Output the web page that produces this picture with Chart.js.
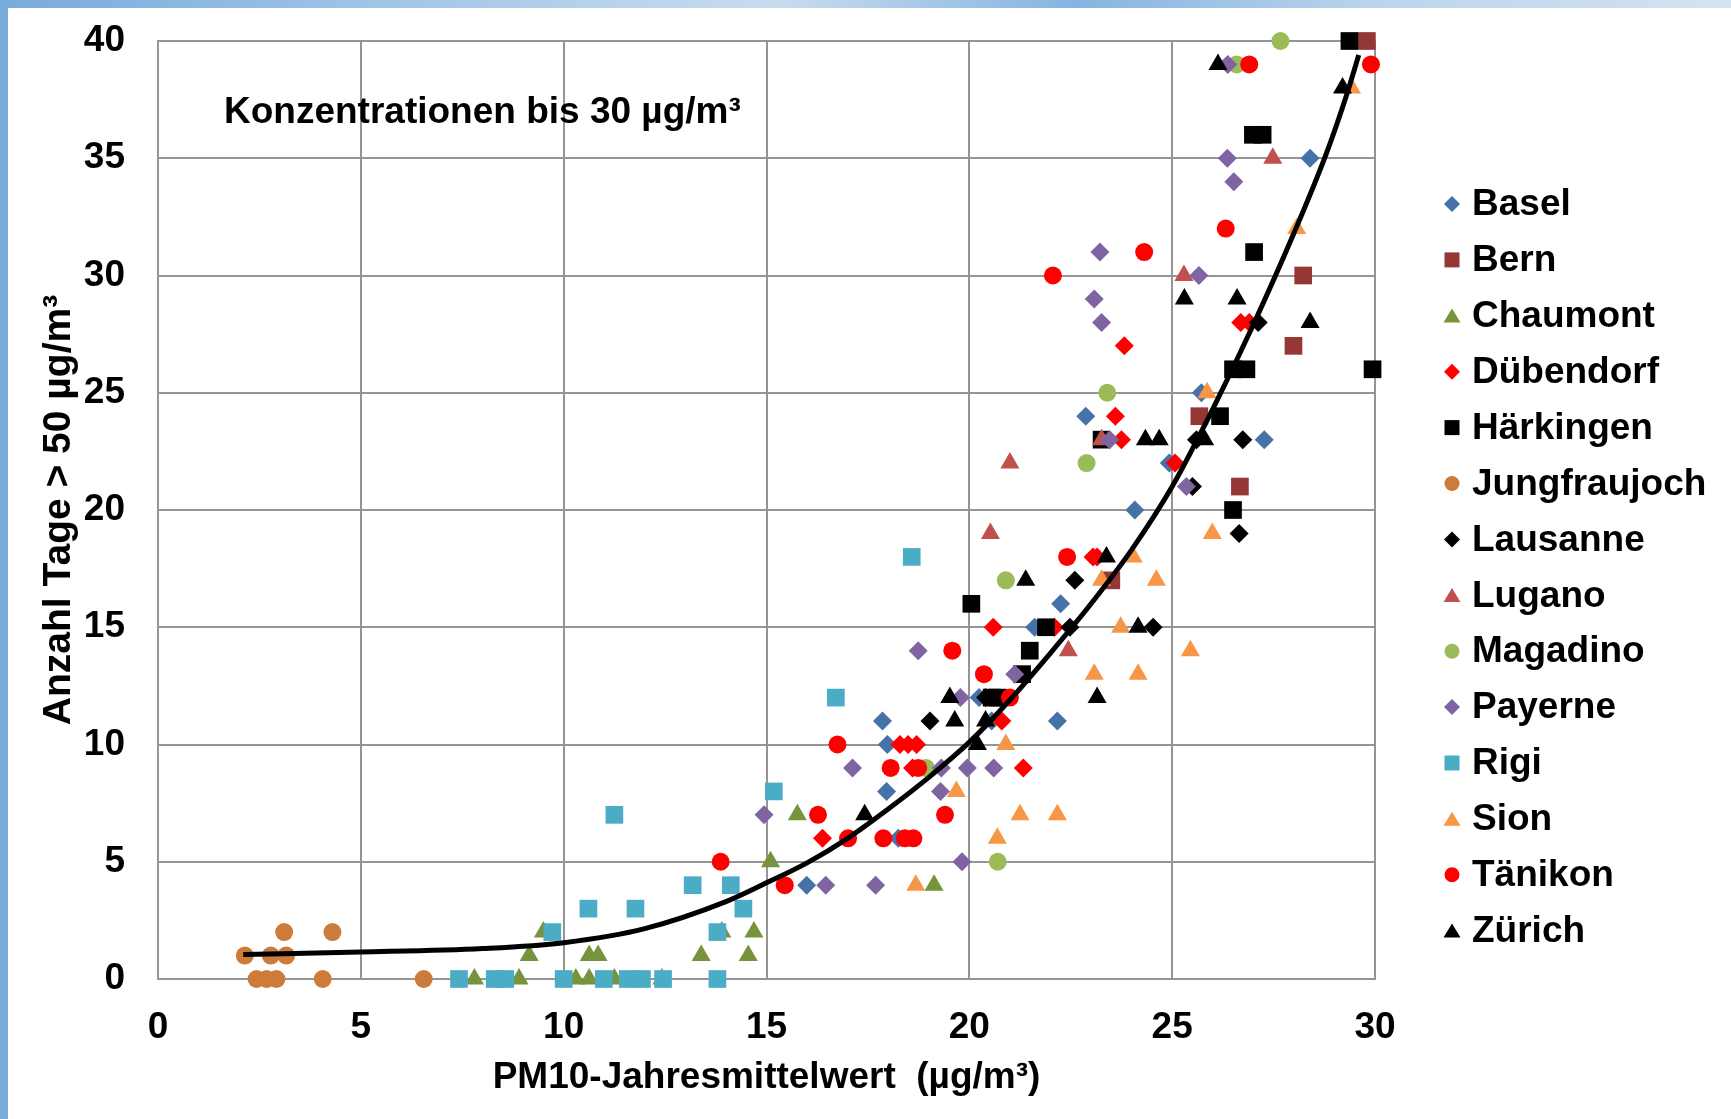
<!DOCTYPE html>
<html lang="de">
<head>
<meta charset="utf-8">
<title>PM10-Jahresmittelwert und Anzahl Tage &gt; 50 µg/m³</title>
<script src="https://cdn.jsdelivr.net/npm/chart.js@4.4.1/dist/chart.umd.min.js"></script>
<style>
  html, body { margin: 0; padding: 0; }
  body {
    width: 1731px; height: 1119px; position: relative; overflow: hidden;
    background: linear-gradient(90deg, #78abdc 0%, #a6c8e8 25%, #c8dcef 45%, #86b4e0 62%, #bcd5ed 80%, #d3e3f2 100%);
  }
  #panel { position: absolute; left: 8px; top: 8px; right: 0; bottom: 0; background: #fff; }
  #chart { position: absolute; left: 0; top: 0; }
</style>
</head>
<body>
<div id="panel"></div>
<canvas id="chart" width="1731" height="1119"></canvas>
<script>
  'use strict';

  // ---- data (x = PM10-Jahresmittelwert, y = Anzahl Tage > 50) ----
  const stations = ['Basel', 'Bern', 'Chaumont', 'Dübendorf', 'Härkingen', 'Jungfraujoch', 'Lausanne',
                    'Lugano', 'Magadino', 'Payerne', 'Rigi', 'Sion', 'Tänikon', 'Zürich'];

  const basel = [[15.99,4],[17.96,8],[17.98,10],[17.86,11],[18.25,6],[20.24,12],[20.55,11],[22.17,11],
                 [21.61,15],[22.25,16],[24.08,20],[24.93,22],[22.87,24],[25.72,25],[27.27,23],[28.4,35]];
  const bern = [[23.5,17],[28.23,30],[27.99,27],[25.67,24],[26.67,21],[29.8,40]];
  const chaumont = [[9.15,1],[10.63,1],[10.85,1],[13.39,1],[14.55,1],[9.5,2],[13.9,2],[14.69,2],
                    [7.8,0],[8.9,0],[10.3,0],[10.63,0],[11.25,0],[12.42,0],[15.76,7],[15.1,5],[19.13,4]];
  const duebendorf = [[20.8,11],[18.29,10],[18.49,10],[18.7,10],[18.6,9],[21.33,9],[16.38,6],[25.07,22],
                      [23.05,18],[23.15,18],[20.59,15],[22.1,15],[26.69,28],[26.9,28],[23.82,27],[23.6,24],[23.75,23]];
  const haerkingen = [[20.05,16],[21.89,15],[21.49,14],[21.3,13],[20.55,12],[20.7,12],[27.02,31],[26.5,26],
                      [26.83,26],[29.94,26],[26.18,24],[23.26,23],[26.5,20],[29.37,40],[26.99,36],[27.23,36]];
  const jungfraujoch = [[2.14,1],[2.78,1],[3.16,1],[3.11,2],[4.3,2],[2.43,0],[2.68,0],[2.92,0],[4.06,0],[6.55,0]];
  const lausanne = [[19.03,11],[22.6,17],[22.48,15],[24.53,15],[20.4,12],[25.5,21],[27.12,28],[25.6,23],
                    [26.74,23],[26.65,19]];
  const lugano = [[21.0,22],[20.52,19],[22.44,14],[25.29,30],[23.26,23],[27.48,35]];
  const magadino = [[18.93,9],[20.7,5],[22.89,22],[20.9,17],[23.4,25],[27.67,40],[26.59,39]];
  const payerne = [[17.12,9],[19.31,9],[19.95,9],[20.6,9],[19.29,8],[14.94,7],[19.82,5],[16.46,4],[17.69,4],
                   [25.35,21],[18.74,14],[21.12,13],[19.78,12],[23.22,31],[25.66,30],[23.08,29],[23.26,28],
                   [23.46,23],[26.37,39],[26.36,35],[26.52,34]];
  const rigi = [[11.25,7],[13.18,4],[14.12,4],[10.61,3],[11.77,3],[14.43,3],[9.72,2],[13.79,2],[7.42,0],[8.3,0],
                [8.56,0],[10.0,0],[10.99,0],[11.58,0],[11.93,0],[12.45,0],[13.79,0],[15.18,8],[16.71,12],[18.58,18]];
  const sion = [[20.9,10],[19.68,8],[21.25,7],[22.17,7],[20.69,6],[18.68,4],[24.04,18],[23.26,17],[24.61,17],
                [23.73,15],[25.45,14],[23.08,13],[24.16,13],[28.07,32],[25.86,25],[25.99,19],[29.42,38]];
  const taenikon = [[13.87,5],[15.45,4],[16.27,7],[16.75,10],[17.01,6],[17.88,6],[18.41,6],[18.62,6],[18.06,9],
                    [18.74,9],[19.4,7],[22.41,18],[19.58,14],[20.36,13],[21.0,12],[26.32,32],[24.31,31],
                    [22.06,30],[26.9,39],[29.9,39]];
  const zuerich = [[19.64,11],[20.4,11],[20.2,10],[17.42,7],[23.38,18],[21.39,17],[24.16,15],[19.52,12],
                   [23.15,12],[25.3,29],[26.6,29],[28.4,28],[24.34,23],[24.68,23],[25.8,23],[26.13,39],[29.2,38]];

  // trend curve
  const trendX = [2.1, 5, 8, 10, 12, 14, 15, 16, 17, 18, 19, 20, 21, 22, 23, 24, 25, 26, 27, 28, 28.8, 29.3, 29.6];
  const trendY = [1.05, 1.15, 1.3, 1.55, 2.15, 3.3, 4.1, 4.95, 6.0, 7.25, 8.6, 10.1, 11.9, 13.9, 16.0, 18.3, 21.0, 24.3, 27.9, 31.8, 35.2, 37.7, 39.4];

  const xTicks = [0, 5, 10, 15, 20, 25, 30];
  const yTicks = [0, 5, 10, 15, 20, 25, 30, 35, 40];

  const seriesData = [basel, bern, chaumont, duebendorf, haerkingen, jungfraujoch, lausanne,
                      lugano, magadino, payerne, rigi, sion, taenikon, zuerich];

  // ---- styles ----
  const colors = ['#4672a8', '#953735', '#77933c', '#ff0000', '#000000', '#cc7b3a', '#000000',
                  '#c0504d', '#9bbb59', '#8064a2', '#4bacc6', '#f79646', '#ff0000', '#000000'];
  const shapes = ['rectRot', 'rect', 'triangle', 'rectRot', 'rect', 'circle', 'rectRot',
                  'triangle', 'circle', 'rectRot', 'rect', 'triangle', 'circle', 'triangle'];
  const radiusFor = { rectRot: 9.5, rect: 12.5, triangle: 11, circle: 9 };

  const FONT = "'Liberation Sans', Arial, sans-serif";
  const GRID = '#959595';

  function drawMarker(ctx, shape, color, x, y, s) {
    ctx.beginPath();
    if (shape === 'circle') {
      ctx.arc(x, y, s, 0, Math.PI * 2);
    } else if (shape === 'rect') {
      ctx.rect(x - s, y - s, 2 * s, 2 * s);
    } else if (shape === 'rectRot') {
      ctx.moveTo(x, y - s); ctx.lineTo(x + s, y); ctx.lineTo(x, y + s); ctx.lineTo(x - s, y);
      ctx.closePath();
    } else {
      ctx.moveTo(x, y - s * 0.85); ctx.lineTo(x + s, y + s * 0.8); ctx.lineTo(x - s, y + s * 0.8);
      ctx.closePath();
    }
    ctx.fillStyle = color;
    ctx.fill();
  }

  // legend at the right + label inside the plot
  const decorPlugin = {
    id: 'decor',
    afterDraw(chart) {
      const ctx = chart.ctx;
      ctx.save();
      ctx.font = 'bold 37px ' + FONT;
      ctx.textBaseline = 'middle';
      ctx.textAlign = 'left';
      ctx.fillStyle = '#000';
      ctx.fillText('Konzentrationen bis 30 µg/m³', 224, 113);

      stations.forEach((name, i) => {
        const y = 204 + i * 55.9;
        const s = shapes[i] === 'rectRot' ? 8 : shapes[i] === 'triangle' ? 8.5 : 7.5;
        drawMarker(ctx, shapes[i], colors[i], 1452, y, s);
        ctx.fillStyle = '#000';
        ctx.fillText(name, 1472, y + 1);
      });
      ctx.restore();
    }
  };

  const datasets = [{
    label: 'Trend',
    data: trendX.map((x, i) => ({ x, y: trendY[i] })),
    showLine: true,
    borderColor: '#000',
    borderWidth: 5,
    pointRadius: 0,
    cubicInterpolationMode: 'monotone',
    fill: false,
    order: 0,
    clip: false
  }];
  seriesData.forEach((pts, i) => {
    datasets.push({
      label: stations[i],
      data: pts.map(p => ({ x: p[0], y: p[1] })),
      pointStyle: shapes[i],
      pointRadius: radiusFor[shapes[i]],
      pointBackgroundColor: colors[i],
      pointBorderColor: colors[i],
      pointBorderWidth: 0,
      showLine: false,
      order: 20 - i,
      clip: false
    });
  });

  const tickFont = { family: FONT, size: 37, weight: 'bold' };

  new Chart(document.getElementById('chart'), {
    type: 'scatter',
    data: { datasets },
    options: {
      responsive: false,
      animation: false,
      events: [],
      devicePixelRatio: 1,
      layout: { padding: { left: 0, right: 356, top: 41, bottom: 0 } },
      plugins: { legend: { display: false }, tooltip: { enabled: false } },
      scales: {
        x: {
          type: 'linear', min: 0, max: 30,
          afterBuildTicks(s) { s.ticks = xTicks.map(v => ({ value: v })); },
          ticks: { color: '#000', font: tickFont, padding: 27, maxRotation: 0, autoSkip: false },
          grid: { color: GRID, lineWidth: 2, drawTicks: false },
          border: { color: GRID, width: 2 },
          title: {
            display: true, text: 'PM10-Jahresmittelwert  (µg/m³)', color: '#000',
            font: tickFont, padding: { top: 0, bottom: 19 }
          },
          afterFit(s) { s.height = 140; s.paddingLeft = 0; s.paddingRight = 0; }
        },
        y: {
          type: 'linear', min: 0, max: 40,
          afterBuildTicks(s) { s.ticks = yTicks.map(v => ({ value: v })); },
          ticks: { color: '#000', font: tickFont, padding: 33 },
          grid: { color: GRID, lineWidth: 2, drawTicks: false },
          border: { color: GRID, width: 2 },
          title: {
            display: true, text: 'Anzahl Tage > 50 µg/m³', color: '#000',
            font: { family: FONT, size: 39, weight: 'bold' }, padding: { top: 36, bottom: 0 }
          },
          afterFit(s) { s.width = 158; s.paddingTop = 0; s.paddingBottom = 0; }
        }
      }
    },
    plugins: [decorPlugin]
  });
</script>
</body>
</html>
